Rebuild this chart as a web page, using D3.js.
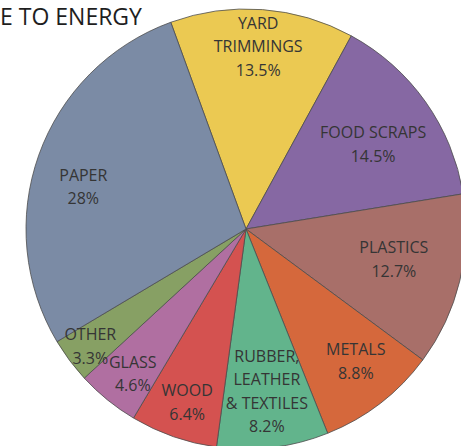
<!DOCTYPE html>
<html>
<head>
<meta charset="utf-8">
<script src="https://cdn.jsdelivr.net/npm/d3@7"></script>
<style>
  html, body { margin: 0; padding: 0; background: #ffffff; }
  svg { display: block; }
</style>
</head>
<body>
<svg id="chart" width="461" height="446"></svg>
<script>
// ---- data ----
const title = "E TO ENERGY";
const categories = ["YARD TRIMMINGS", "FOOD SCRAPS", "PLASTICS", "METALS", "RUBBER, LEATHER & TEXTILES", "WOOD", "GLASS", "OTHER", "PAPER"];
const labelLines = [["YARD", "TRIMMINGS"], ["FOOD SCRAPS"], ["PLASTICS"], ["METALS"], ["RUBBER,", "LEATHER", "& TEXTILES"], ["WOOD"], ["GLASS"], ["OTHER"], ["PAPER"]];
const values = [13.5, 14.5, 12.7, 8.8, 8.2, 6.4, 4.6, 3.3, 28];
const valueLabels = ["13.5%", "14.5%", "12.7%", "8.8%", "8.2%", "6.4%", "4.6%", "3.3%", "28%"];

// ---- style / layout ----
const colors = ["#ebc952", "#8668a3", "#a86f69", "#d5683c", "#62b48c", "#d45250", "#b06fa1", "#87a064", "#7b8ba5"];
const labelRadiusFrac = [0.831, 0.695, 0.686, 0.781, 0.743, 0.831, 0.835, 0.886, 0.764];
const labelAngleFrac = [0.49, 0.53, 0.455, 0.435, 0.49, 0.48, 0.44, 0.48, 0.45];

const W = 461, H = 446;
const cx = 246, cy = 229, R = 220;
const startDeg = -20;
const lineH = 23.5;

const svg = d3.select("#chart");

svg.append("text")
  .attr("x", 0).attr("y", 25)
  .attr("font-family", "'Open Sans', sans-serif")
  .attr("font-size", 23)
  .attr("fill", "#1e1e1e")
  .text(title);

const pie = d3.pie().sort(null).value(d => d)
  .startAngle(startDeg * Math.PI / 180)
  .endAngle(startDeg * Math.PI / 180 + 2 * Math.PI);
const arcs = pie(values);
const arc = d3.arc().innerRadius(0).outerRadius(R);

const g = svg.append("g").attr("transform", `translate(${cx},${cy})`);

g.selectAll("path.slice").data(arcs).enter().append("path")
  .attr("class", "slice")
  .attr("d", arc)
  .attr("fill", (d, i) => colors[i])
  .attr("stroke", "#4d4d4d")
  .attr("stroke-width", 0.8)
  .attr("stroke-linejoin", "round");

g.selectAll("text.lbl").data(arcs).enter().append("text")
  .attr("class", "lbl")
  .attr("font-family", "'Open Sans', sans-serif")
  .attr("font-size", 16)
  .attr("fill", "#353535")
  .attr("text-anchor", "middle")
  .each(function (d, i) {
    const a = d.startAngle + (d.endAngle - d.startAngle) * labelAngleFrac[i];
    const r = R * labelRadiusFrac[i];
    const lx = r * Math.sin(a);
    const ly = -r * Math.cos(a);
    const lines = labelLines[i].concat([valueLabels[i]]);
    const n = lines.length;
    const t = d3.select(this);
    lines.forEach((s, k) => {
      t.append("tspan")
        .attr("x", lx)
        .attr("y", ly + (k - (n - 1) / 2) * lineH + 5.7)
        .text(s);
    });
  });
</script>
</body>
</html>
